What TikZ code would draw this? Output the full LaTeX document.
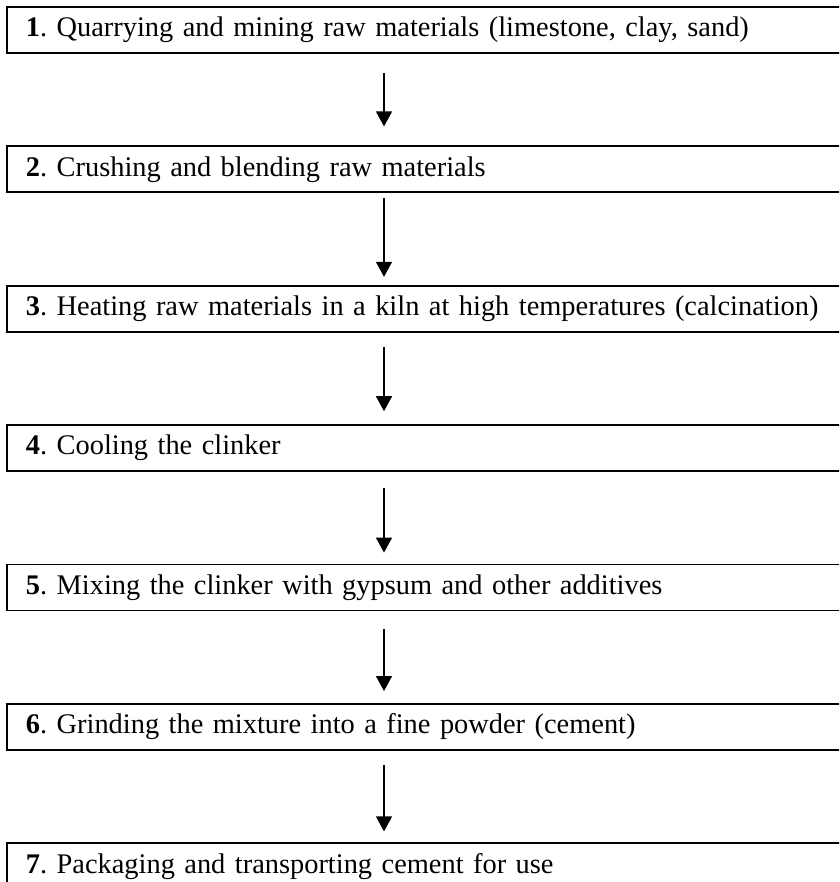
\documentclass[tikz,border=0pt]{standalone}
\usepackage{fontspec}
\setmainfont{Liberation Serif}
\usetikzlibrary{arrows.meta,positioning}

\begin{document}
\frenchspacing
\begin{tikzpicture}[
  x=1pt,y=1pt,
  node distance=91.6pt,
  stepbox/.style={draw,line width=1.8pt,anchor=north west,minimum height=46pt,text width=900pt,inner xsep=19pt,align=left,font=\fontsize{28.4}{32}\selectfont},
  arr/.style={-{Triangle[length=15pt,width=16pt]},line width=1.5pt},
]
\useasboundingbox (0,0) rectangle (839,-882);
\clip (0,0) rectangle (839,-882);
\node[stepbox] (s1) at (6,-6) {\textbf{1}. Quarrying and mining raw materials (limestone, clay, sand)};
\node[stepbox,below=of s1] (s2) {\textbf{2}. Crushing and blending raw materials};
\node[stepbox,below=of s2] (s3) {\textbf{3}. Heating raw materials in a kiln at high temperatures (calcination)};
\node[stepbox,below=of s3] (s4) {\textbf{4}. Cooling the clinker};
\node[stepbox,below=of s4] (s5) {\textbf{5}. Mixing the clinker with gypsum and other additives};
\node[stepbox,below=of s5] (s6) {\textbf{6}. Grinding the mixture into a fine powder (cement)};
\node[stepbox,below=of s6] (s7) {\textbf{7}. Packaging and transporting cement for use};
\coordinate (axis) at (384,0);

\draw[arr,shorten <=19pt,shorten >=19pt] (s1.south -| axis) -- (s2.north -| axis);
\draw[arr,shorten <=5pt,shorten >=8pt] (s2.south -| axis) -- (s3.north -| axis);
\draw[arr,shorten <=14pt,shorten >=13pt] (s3.south -| axis) -- (s4.north -| axis);
\draw[arr,shorten <=16pt,shorten >=11pt] (s4.south -| axis) -- (s5.north -| axis);
\draw[arr,shorten <=18pt,shorten >=12pt] (s5.south -| axis) -- (s6.north -| axis);
\draw[arr,shorten <=14pt,shorten >=11pt] (s6.south -| axis) -- (s7.north -| axis);
\end{tikzpicture}
\end{document}
